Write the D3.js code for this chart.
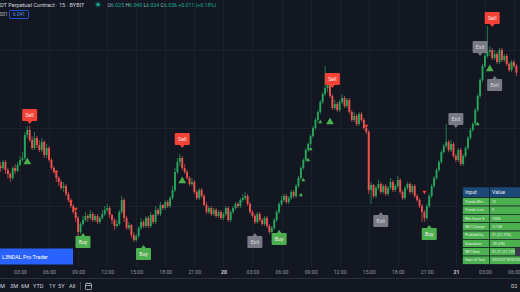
<!DOCTYPE html>
<html>
<head>
<meta charset="utf-8">
<script src="https://cdn.jsdelivr.net/npm/d3@7"></script>
<style>
  body { margin: 0; background: #131722; overflow: hidden; }
  svg { display: block; font-family: Roboto, "Noto Sans", sans-serif; }
</style>
</head>
<body>
<svg id="chart" width="520" height="292"></svg>
<script>
// 15 minute candles, first one at 01:00 UTC on the 19th
var startTime = "2023-07-19T01:00";
var firstOpen = 5.57;
var closes = [
  5.56,5.59,5.55,5.53, 5.51,5.56,5.545,5.575, 5.60,5.61,5.725,5.75, 5.70,5.66,5.71,5.675,
  5.65,5.69,5.625,5.66, 5.60,5.56,5.54,5.51, 5.49,5.46,5.47,5.43, 5.40,5.37,5.34,5.31,
  5.24,5.28,5.30,5.32, 5.31,5.33,5.30,5.32, 5.29,5.31,5.33,5.35, 5.36,5.325,5.30,5.27,
  5.28,5.34,5.40,5.31, 5.26,5.275,5.225,5.20, 5.22,5.26,5.29,5.27, 5.31,5.27,5.325,5.29,
  5.35,5.33,5.375,5.36, 5.39,5.37,5.41,5.45, 5.54,5.59,5.61,5.56, 5.54,5.51,5.48,5.49,
  5.44,5.41,5.45,5.42, 5.375,5.34,5.36,5.33, 5.35,5.32,5.34,5.31, 5.33,5.36,5.30,5.34,
  5.36,5.38,5.37,5.40, 5.41,5.42,5.38,5.34, 5.32,5.29,5.33,5.30, 5.28,5.31,5.27,5.24,
  5.26,5.30,5.34,5.38, 5.40,5.42,5.39,5.41, 5.44,5.42,5.47,5.51, 5.56,5.60,5.65,5.68,
  5.72,5.76,5.80,5.84, 5.89,5.93,5.96,5.98, 5.92,5.86,5.88,5.85, 5.89,5.91,5.87,5.90,
  5.84,5.80,5.82,5.78, 5.83,5.80,5.76,5.74, 5.45,5.475,5.42,5.46, 5.48,5.44,5.47,5.43,
  5.46,5.49,5.45,5.47, 5.50,5.44,5.41,5.46, 5.48,5.44,5.47,5.42, 5.40,5.37,5.34,5.31,
  5.37,5.42,5.47,5.51, 5.55,5.59,5.64,5.67, 5.69,5.65,5.68,5.62, 5.60,5.65,5.58,5.62,
  5.66,5.71,5.75,5.78, 5.85,5.92,6.00,6.07, 6.12,6.14,6.15,6.11, 6.13,6.09,6.15,6.10,
  6.12,6.08,6.05,6.09, 6.07,6.036
];
var highs = [
  5.59,5.60,5.60,5.56, 5.54,5.57,5.58,5.59, 5.62,5.64,5.74,5.77, 5.77,5.72,5.74,5.72,
  5.70,5.71,5.70,5.68, 5.67,5.61,5.57,5.55, 5.52,5.50,5.49,5.48, 5.44,5.41,5.38,5.36,
  5.32,5.29,5.32,5.34, 5.33,5.35,5.34,5.33, 5.33,5.32,5.35,5.37, 5.38,5.37,5.33,5.31,
  5.30,5.35,5.42,5.41, 5.32,5.29,5.28,5.24, 5.23,5.27,5.31,5.30, 5.32,5.32,5.34,5.33,
  5.37,5.36,5.39,5.38, 5.40,5.40,5.42,5.47, 5.56,5.61,5.63,5.62, 5.58,5.55,5.52,5.51,
  5.50,5.45,5.46,5.46, 5.43,5.39,5.37,5.37, 5.36,5.36,5.35,5.35, 5.34,5.37,5.37,5.35,
  5.37,5.39,5.39,5.41, 5.43,5.44,5.43,5.39, 5.35,5.33,5.34,5.34, 5.31,5.32,5.32,5.28,
  5.27,5.31,5.35,5.39, 5.42,5.43,5.43,5.42, 5.45,5.45,5.48,5.52, 5.57,5.61,5.66,5.69,
  5.73,5.77,5.81,5.85, 5.90,5.94,6.07,5.99, 5.99,5.93,5.90,5.89, 5.90,5.93,5.92,5.91,
  5.91,5.85,5.84,5.83, 5.84,5.84,5.81,5.77, 5.75,5.49,5.48,5.47, 5.50,5.49,5.48,5.48,
  5.47,5.51,5.50,5.48, 5.52,5.51,5.45,5.47, 5.49,5.49,5.48,5.48, 5.43,5.41,5.38,5.35,
  5.38,5.43,5.48,5.52, 5.56,5.60,5.65,5.68, 5.78,5.70,5.70,5.69, 5.63,5.66,5.66,5.63,
  5.67,5.72,5.76,5.79, 5.86,5.93,6.01,6.08, 6.14,6.27,6.17,6.16, 6.15,6.14,6.16,6.16,
  6.13,6.13,6.09,6.10, 6.10,6.08
];
var lows = [
  5.54,5.55,5.53,5.51, 5.49,5.50,5.53,5.54, 5.57,5.59,5.60,5.71, 5.69,5.65,5.65,5.66,
  5.64,5.64,5.61,5.61, 5.59,5.55,5.53,5.49, 5.47,5.45,5.44,5.42, 5.39,5.36,5.33,5.29,
  5.22,5.23,5.27,5.29, 5.29,5.30,5.29,5.29, 5.28,5.28,5.30,5.32, 5.34,5.31,5.28,5.25,
  5.26,5.27,5.33,5.29, 5.25,5.25,5.21,5.19, 5.19,5.21,5.25,5.26, 5.26,5.26,5.26,5.28,
  5.28,5.32,5.32,5.35, 5.35,5.36,5.36,5.40, 5.44,5.53,5.57,5.55, 5.53,5.50,5.47,5.47,
  5.43,5.40,5.40,5.41, 5.37,5.33,5.33,5.32, 5.32,5.31,5.31,5.30, 5.30,5.32,5.29,5.29,
  5.33,5.35,5.36,5.36, 5.39,5.40,5.37,5.33, 5.31,5.28,5.28,5.29, 5.27,5.27,5.26,5.23,
  5.23,5.25,5.29,5.33, 5.37,5.39,5.38,5.38, 5.40,5.41,5.41,5.46, 5.50,5.55,5.59,5.64,
  5.67,5.71,5.75,5.79, 5.83,5.88,5.92,5.94, 5.91,5.85,5.85,5.84, 5.84,5.88,5.86,5.86,
  5.83,5.79,5.79,5.77, 5.77,5.79,5.75,5.73, 5.43,5.38,5.41,5.41, 5.45,5.43,5.43,5.42,
  5.42,5.45,5.44,5.44, 5.46,5.43,5.40,5.40, 5.45,5.43,5.43,5.41, 5.39,5.36,5.29,5.29,
  5.30,5.36,5.41,5.46, 5.50,5.54,5.58,5.63, 5.66,5.64,5.64,5.61, 5.59,5.59,5.57,5.57,
  5.61,5.65,5.70,5.74, 5.77,5.84,5.91,5.99, 6.06,6.11,6.12,6.10, 6.10,6.08,6.08,6.09,
  6.09,6.07,6.04,6.04, 6.06,6.02
];

var tickTimes = ["2023-07-19T03:00","2023-07-19T06:00","2023-07-19T09:00","2023-07-19T12:00",
  "2023-07-19T15:00","2023-07-19T18:00","2023-07-19T21:00","2023-07-20T00:00",
  "2023-07-20T03:00","2023-07-20T06:00","2023-07-20T09:00","2023-07-20T12:00",
  "2023-07-20T15:00","2023-07-20T18:00","2023-07-20T21:00","2023-07-21T00:00",
  "2023-07-21T03:00","2023-07-21T06:00"];
var tickLabels = ["03:00","06:00","09:00","12:00","15:00","18:00","21:00","20",
  "03:00","06:00","09:00","12:00","15:00","18:00","21:00","21","03:00","06:00"];
var gridPrices = [6.15, 5.76, 5.37];

// signals: [bar index, price at pointer tip, text]
var signalLabels = [
  [12, 5.78, "Sell"], [34, 5.235, "Buy"], [59, 5.175, "Buy"], [75, 5.66, "Sell"],
  [105, 5.235, "Exit"], [115, 5.25, "Buy"], [137, 5.96, "Sell"], [157, 5.34, "Exit"],
  [177, 5.275, "Buy"], [188, 5.76, "Exit"], [198, 6.12, "Exit"], [203, 6.265, "Sell"],
  [204, 6.02, "Exit"]
];
var entryMarks = [[11, 5.59], [75, 5.495], [136, 5.79], [202, 6.055]];
var stepMarks = [[124, 5.425], [125, 5.50], [127, 5.60], [128, 5.655], [132, 5.79], [197, 5.78]];
var stopMarks = [[23, 5.54], [29, 5.39], [31, 5.355], [151, 5.77], [175, 5.44]];

var tableKeys = ["Trends Win","Trends Lost","Win Score %","NET Change","Profitability","Drawdown","NET Gain","Start of Test"];
var tableValues = ["10","0","100%","-0.108","$1 (21.72%)","-$0 (0%)","$1.31 (21.72%)","2023-07-18 05:00"];

var upColor = "#26a65b", downColor = "#ef5350";

var svg = d3.select("#chart");
var parse = d3.utcParse("%Y-%m-%dT%H:%M");
var t0 = parse(startTime);

var bars = closes.map(function(c, i) {
  return { t: d3.utcMinute.offset(t0, i * 15), o: i ? closes[i - 1] : firstOpen, h: highs[i], l: lows[i], c: c };
});

var x = d3.scaleUtc()
  .domain([parse("2023-07-19T00:00"), parse("2023-07-21T06:00")])
  .range([-9.06, 514]);
var y = d3.scaleLinear().domain([4.94, 6.40]).range([292, 0]);

svg.append("defs").append("clipPath").attr("id", "plot")
  .append("rect").attr("width", 520).attr("height", 267);

// grid
var grid = svg.append("g").attr("clip-path", "url(#plot)");
grid.selectAll(".vg").data(tickTimes).enter().append("line")
  .attr("x1", function(d) { return Math.round(x(parse(d))) + 0.5; })
  .attr("x2", function(d) { return Math.round(x(parse(d))) + 0.5; })
  .attr("y1", 0).attr("y2", 267)
  .attr("stroke", "#1c202b");
grid.selectAll(".hg").data(gridPrices).enter().append("line")
  .attr("x1", 0).attr("x2", 520)
  .attr("y1", function(d) { return Math.round(y(d)) + 0.5; })
  .attr("y2", function(d) { return Math.round(y(d)) + 0.5; })
  .attr("stroke", "#1c202b");

// candles
var plot = svg.append("g").attr("clip-path", "url(#plot)");
var candle = plot.selectAll(".c").data(bars).enter().append("g");
candle.append("line")
  .attr("x1", function(d) { return x(d.t); })
  .attr("x2", function(d) { return x(d.t); })
  .attr("y1", function(d) { return y(d.h); })
  .attr("y2", function(d) { return y(d.l); })
  .attr("stroke", function(d) { return d.c >= d.o ? upColor : downColor; })
  .attr("stroke-width", 0.7);
candle.append("rect")
  .attr("x", function(d) { return x(d.t) - 0.95; })
  .attr("width", 1.9)
  .attr("y", function(d) { return y(Math.max(d.o, d.c)); })
  .attr("height", function(d) { return Math.max(0.7, Math.abs(y(d.o) - y(d.c))); })
  .attr("fill", function(d) { return d.c >= d.o ? upColor : downColor; });

// markers
function markPos(d) { return "translate(" + x(bars[d[0]].t) + "," + y(d[1]) + ")"; }
plot.selectAll(".em").data(entryMarks).enter().append("path")
  .attr("transform", markPos)
  .attr("d", d3.symbol(d3.symbolTriangle, 26))
  .attr("fill", "#4caf50");
plot.selectAll(".sm").data(stepMarks).enter().append("path")
  .attr("transform", markPos)
  .attr("d", d3.symbol(d3.symbolTriangle, 7))
  .attr("fill", "#4caf50");
plot.selectAll(".rm").data(stopMarks).enter().append("path")
  .attr("transform", function(d) { return markPos(d) + " rotate(180)"; })
  .attr("d", d3.symbol(d3.symbolTriangle, 7))
  .attr("fill", "#f44336");

// signal labels
var labelFill = { Sell: "#f44336", Buy: "#4caf50", Exit: "#787b86" };
var lab = plot.selectAll(".lab").data(signalLabels).enter().append("g")
  .attr("transform", function(d) { return "translate(" + x(bars[d[0]].t) + "," + y(d[1]) + ")"; });
lab.each(function(d) {
  var g = d3.select(this);
  var above = d[1] >= bars[d[0]].h;
  var top = above ? -15 : 3;
  g.append("rect").attr("x", -7.5).attr("y", top).attr("width", 15).attr("height", 12)
    .attr("rx", 1).attr("fill", labelFill[d[2]]);
  g.append("path")
    .attr("d", above ? "M-2.5,-3.2L2.5,-3.2L0,0Z" : "M-2.5,3.2L2.5,3.2L0,0Z")
    .attr("fill", labelFill[d[2]]);
  g.append("text").attr("x", 0).attr("y", top + 6).attr("dy", "0.35em")
    .attr("text-anchor", "middle").attr("font-size", 5.2)
    .attr("fill", d[2] === "Exit" ? "#d8d9dd" : "#fde9e9")
    .text(d[2]);
});

// time axis
var axis = svg.append("g").attr("transform", "translate(0,270.5)")
  .call(d3.axisBottom(x)
    .tickValues(tickTimes.map(parse))
    .tickFormat(function(d, i) { return tickLabels[i]; })
    .tickSize(0).tickPadding(0));
axis.select(".domain").remove();
axis.selectAll("text")
  .attr("font-size", 5.2)
  .attr("font-family", "Roboto, 'Noto Sans', sans-serif")
  .attr("fill", function(d, i) { return tickLabels[i].length < 3 ? "#d1d4dc" : "#9598a1"; })
  .attr("font-weight", function(d, i) { return tickLabels[i].length < 3 ? "bold" : "normal"; });

svg.append("line").attr("x1", 0).attr("x2", 520).attr("y1", 278.5).attr("y2", 278.5)
  .attr("stroke", "#2a2e39");

// bottom toolbar
var ranges = [["M", 0], ["3M", 10], ["6M", 21], ["YTD", 33], ["1Y", 49], ["5Y", 58], ["All", 69]];
svg.selectAll(".rg").data(ranges).enter().append("text")
  .attr("x", function(d) { return d[1]; }).attr("y", 287.5)
  .attr("font-size", 5.6).attr("fill", "#d1d4dc").text(function(d) { return d[0]; });
svg.append("line").attr("x1", 80.5).attr("x2", 80.5).attr("y1", 282).attr("y2", 290).attr("stroke", "#434651");
var cal = svg.append("g").attr("transform", "translate(85,282)").attr("fill", "none").attr("stroke", "#d1d4dc").attr("stroke-width", 0.7);
cal.append("rect").attr("x", 0.5).attr("y", 1.5).attr("width", 6).attr("height", 6).attr("rx", 0.8);
cal.append("line").attr("x1", 0.5).attr("x2", 6.5).attr("y1", 3.5).attr("y2", 3.5);
cal.append("line").attr("x1", 2).attr("x2", 2).attr("y1", 0.5).attr("y2", 2);
cal.append("line").attr("x1", 5).attr("x2", 5).attr("y1", 0.5).attr("y2", 2);
svg.append("text").attr("x", 511).attr("y", 287.5).attr("font-size", 5.6).attr("fill", "#d1d4dc").text("02");

// indicator name box
svg.append("rect").attr("x", 0).attr("y", 248.5).attr("width", 73).attr("height", 16).attr("fill", "#2962ff");
svg.append("text").attr("x", 2).attr("y", 258.5).attr("font-size", 5.4).attr("fill", "#ffffff").text("L3NDAL Pro Trader");

// header
svg.append("text").attr("x", 0).attr("y", 7).attr("font-size", 5.6).attr("fill", "#d1d4dc")
  .text("DT Perpetual Contract \u00b7 15 \u00b7 BYBIT");
svg.append("circle").attr("cx", 98).attr("cy", 4.5).attr("r", 3).attr("fill", "#089981").attr("opacity", 0.3);
svg.append("circle").attr("cx", 98).attr("cy", 4.5).attr("r", 1.6).attr("fill", "#22ab94");
var ohlc = svg.append("text").attr("x", 107.5).attr("y", 7).attr("font-size", 5.2);
[["O", "6.025"], ["H", "6.040"], ["L", "6.024"], ["C", "6.036"]].forEach(function(p) {
  ohlc.append("tspan").attr("fill", "#b2b5be").text(p[0]);
  ohlc.append("tspan").attr("fill", "#22ab94").text(p[1] + " ");
});
ohlc.append("tspan").attr("fill", "#22ab94").text("+0.011 (+0.18%)");
svg.append("text").attr("x", -0.5).attr("y", 16).attr("font-size", 5).attr("fill", "#b2b5be").text("001");
svg.append("rect").attr("x", 9.5).attr("y", 10.5).attr("width", 19).attr("height", 8).attr("rx", 1)
  .attr("fill", "none").attr("stroke", "#2962ff").attr("stroke-width", 0.8);
svg.append("text").attr("x", 19).attr("y", 16.4).attr("text-anchor", "middle").attr("font-size", 4.8)
  .attr("fill", "#5b8def").text("6.041");

// stats table
var tx = 462.5, c1 = 27, c2 = 34, ty = 187, hh = 10.7, rh = 8.33;
var table = svg.append("g");
table.append("rect").attr("x", tx).attr("y", ty).attr("width", c1).attr("height", hh)
  .attr("fill", "#1c4a78").attr("stroke", "#131722").attr("stroke-width", 0.6);
table.append("rect").attr("x", tx + c1).attr("y", ty).attr("width", c2).attr("height", hh)
  .attr("fill", "#1c4a78").attr("stroke", "#131722").attr("stroke-width", 0.6);
table.append("text").attr("x", tx + 2.5).attr("y", ty + 7.2).attr("font-size", 5.2).attr("fill", "#e8eaf0").text("Input");
table.append("text").attr("x", tx + c1 + 2.5).attr("y", ty + 7.2).attr("font-size", 5.2).attr("fill", "#e8eaf0").text("Value");
var rows = table.selectAll(".row").data(tableKeys).enter().append("g")
  .attr("transform", function(d, i) { return "translate(" + tx + "," + (ty + hh + i * rh) + ")"; });
rows.append("rect").attr("width", c1).attr("height", rh)
  .attr("fill", "#4caf50").attr("stroke", "#131722").attr("stroke-width", 0.6);
rows.append("rect").attr("x", c1).attr("width", c2).attr("height", rh)
  .attr("fill", "#4caf50").attr("stroke", "#131722").attr("stroke-width", 0.6);
rows.append("text").attr("x", 2.5).attr("y", 5.4).attr("font-size", 3.6).attr("fill", "#e3f3e3")
  .text(function(d) { return d; });
rows.append("text").attr("x", c1 + 2.5).attr("y", 5.4).attr("font-size", 3.6).attr("fill", "#e3f3e3")
  .text(function(d, i) { return tableValues[i]; });
svg.append("rect").attr("x", 515).attr("y", 248).attr("width", 6).attr("height", 8).attr("fill", "#363a45");
</script>
</body>
</html>
